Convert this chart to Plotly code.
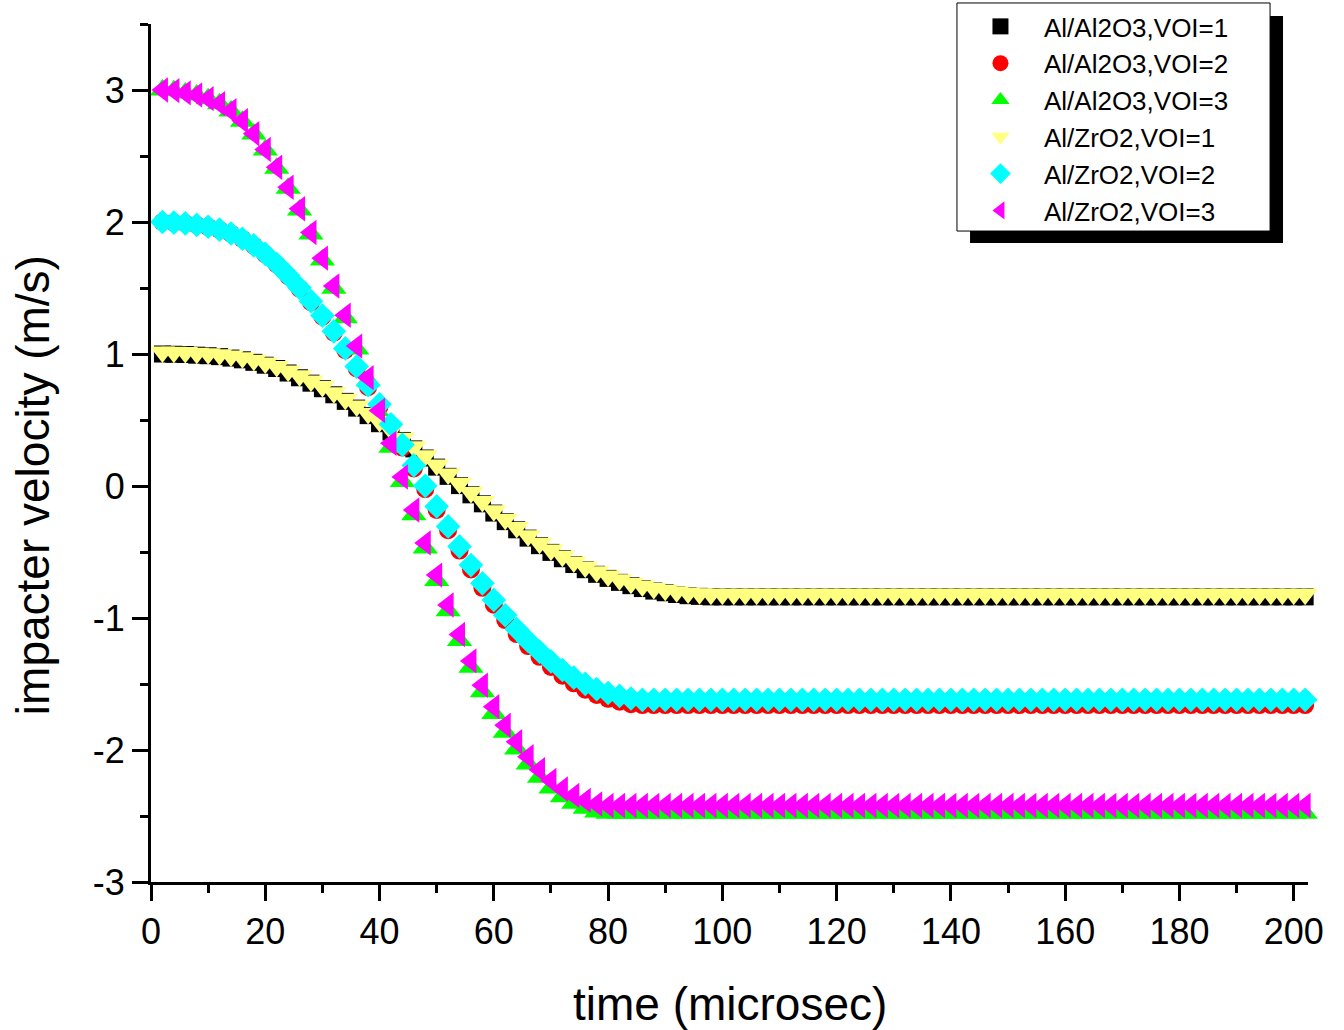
import plotly.graph_objects as go

# time axis (microsec): markers every 2 us from 2 to 202
time_us = list(range(2, 203, 2))

# Al/Al2O3, VOI=1
al2o3_v1 = [
    1.000, 0.998, 0.996, 0.991, 0.987, 0.980, 0.969, 0.956, 0.937, 0.915,
    0.890, 0.856, 0.820, 0.779, 0.737, 0.691, 0.641, 0.590, 0.533, 0.472,
    0.409, 0.345, 0.281, 0.212, 0.143, 0.073, 0.003, -0.067, -0.135, -0.205,
    -0.270, -0.332, -0.395, -0.452, -0.503, -0.551, -0.595, -0.634, -0.669, -0.700,
    -0.730, -0.755, -0.777, -0.796, -0.809, -0.822, -0.831, -0.836, -0.840, -0.840,
    -0.840, -0.840, -0.840, -0.840, -0.840, -0.840, -0.840, -0.840, -0.840, -0.840,
    -0.840, -0.840, -0.840, -0.840, -0.840, -0.840, -0.840, -0.840, -0.840, -0.840,
    -0.840, -0.840, -0.840, -0.840, -0.840, -0.840, -0.840, -0.840, -0.840, -0.840,
    -0.840, -0.840, -0.840, -0.840, -0.840, -0.840, -0.840, -0.840, -0.840, -0.840,
    -0.840, -0.840, -0.840, -0.840, -0.840, -0.840, -0.840, -0.840, -0.840, -0.840,
    -0.840,
]

# Al/Al2O3, VOI=2
al2o3_v2 = [
    2.000, 1.996, 1.989, 1.978, 1.963, 1.941, 1.912, 1.872, 1.821, 1.755,
    1.678, 1.590, 1.495, 1.392, 1.283, 1.162, 1.030, 0.891, 0.748, 0.602,
    0.448, 0.291, 0.133, -0.024, -0.181, -0.335, -0.489, -0.632, -0.771, -0.899,
    -1.016, -1.122, -1.213, -1.294, -1.371, -1.437, -1.495, -1.543, -1.583, -1.612,
    -1.634, -1.653, -1.660, -1.660, -1.660, -1.660, -1.660, -1.660, -1.660, -1.660,
    -1.660, -1.660, -1.660, -1.660, -1.660, -1.660, -1.660, -1.660, -1.660, -1.660,
    -1.660, -1.660, -1.660, -1.660, -1.660, -1.660, -1.660, -1.660, -1.660, -1.660,
    -1.660, -1.660, -1.660, -1.660, -1.660, -1.660, -1.660, -1.660, -1.660, -1.660,
    -1.660, -1.660, -1.660, -1.660, -1.660, -1.660, -1.660, -1.660, -1.660, -1.660,
    -1.660, -1.660, -1.660, -1.660, -1.660, -1.660, -1.660, -1.660, -1.660, -1.660,
    -1.660,
]

# Al/Al2O3, VOI=3
al2o3_v3 = [
    3.000, 2.995, 2.978, 2.962, 2.934, 2.896, 2.841, 2.764, 2.666, 2.545,
    2.408, 2.255, 2.090, 1.909, 1.712, 1.498, 1.274, 1.038, 0.797, 0.545,
    0.293, 0.035, -0.217, -0.469, -0.715, -0.946, -1.170, -1.373, -1.559, -1.724,
    -1.866, -1.992, -2.107, -2.206, -2.288, -2.354, -2.403, -2.442, -2.469, -2.480,
    -2.480, -2.480, -2.480, -2.480, -2.480, -2.480, -2.480, -2.480, -2.480, -2.480,
    -2.480, -2.480, -2.480, -2.480, -2.480, -2.480, -2.480, -2.480, -2.480, -2.480,
    -2.480, -2.480, -2.480, -2.480, -2.480, -2.480, -2.480, -2.480, -2.480, -2.480,
    -2.480, -2.480, -2.480, -2.480, -2.480, -2.480, -2.480, -2.480, -2.480, -2.480,
    -2.480, -2.480, -2.480, -2.480, -2.480, -2.480, -2.480, -2.480, -2.480, -2.480,
    -2.480, -2.480, -2.480, -2.480, -2.480, -2.480, -2.480, -2.480, -2.480, -2.480,
    -2.480,
]

# Al/ZrO2, VOI=1
zro2_v1 = [
    1.015, 1.013, 1.011, 1.006, 1.002, 0.995, 0.984, 0.971, 0.953, 0.931,
    0.905, 0.872, 0.835, 0.795, 0.753, 0.707, 0.657, 0.606, 0.549, 0.488,
    0.426, 0.362, 0.298, 0.230, 0.160, 0.090, 0.020, -0.049, -0.117, -0.187,
    -0.251, -0.314, -0.376, -0.433, -0.484, -0.532, -0.576, -0.614, -0.649, -0.681,
    -0.710, -0.736, -0.758, -0.776, -0.789, -0.802, -0.811, -0.816, -0.820, -0.820,
    -0.820, -0.820, -0.820, -0.820, -0.820, -0.820, -0.820, -0.820, -0.820, -0.820,
    -0.820, -0.820, -0.820, -0.820, -0.820, -0.820, -0.820, -0.820, -0.820, -0.820,
    -0.820, -0.820, -0.820, -0.820, -0.820, -0.820, -0.820, -0.820, -0.820, -0.820,
    -0.820, -0.820, -0.820, -0.820, -0.820, -0.820, -0.820, -0.820, -0.820, -0.820,
    -0.820, -0.820, -0.820, -0.820, -0.820, -0.820, -0.820, -0.820, -0.820, -0.820,
    -0.820,
]

# Al/ZrO2, VOI=2
zro2_v2 = [
    2.000, 1.996, 1.989, 1.978, 1.964, 1.942, 1.913, 1.873, 1.823, 1.758,
    1.682, 1.595, 1.501, 1.400, 1.291, 1.172, 1.042, 0.905, 0.764, 0.619,
    0.467, 0.312, 0.156, 0.001, -0.155, -0.306, -0.458, -0.599, -0.737, -0.863,
    -0.979, -1.084, -1.174, -1.254, -1.329, -1.394, -1.452, -1.499, -1.539, -1.568,
    -1.590, -1.610, -1.620, -1.620, -1.620, -1.620, -1.620, -1.620, -1.620, -1.620,
    -1.620, -1.620, -1.620, -1.620, -1.620, -1.620, -1.620, -1.620, -1.620, -1.620,
    -1.620, -1.620, -1.620, -1.620, -1.620, -1.620, -1.620, -1.620, -1.620, -1.620,
    -1.620, -1.620, -1.620, -1.620, -1.620, -1.620, -1.620, -1.620, -1.620, -1.620,
    -1.620, -1.620, -1.620, -1.620, -1.620, -1.620, -1.620, -1.620, -1.620, -1.620,
    -1.620, -1.620, -1.620, -1.620, -1.620, -1.620, -1.620, -1.620, -1.620, -1.620,
    -1.620,
]

# Al/ZrO2, VOI=3
zro2_v3 = [
    3.000, 2.995, 2.978, 2.962, 2.935, 2.897, 2.843, 2.767, 2.669, 2.550,
    2.415, 2.263, 2.100, 1.921, 1.726, 1.515, 1.293, 1.060, 0.821, 0.572,
    0.323, 0.068, -0.182, -0.431, -0.675, -0.902, -1.125, -1.325, -1.509, -1.672,
    -1.813, -1.938, -2.051, -2.149, -2.230, -2.295, -2.344, -2.382, -2.409, -2.420,
    -2.420, -2.420, -2.420, -2.420, -2.420, -2.420, -2.420, -2.420, -2.420, -2.420,
    -2.420, -2.420, -2.420, -2.420, -2.420, -2.420, -2.420, -2.420, -2.420, -2.420,
    -2.420, -2.420, -2.420, -2.420, -2.420, -2.420, -2.420, -2.420, -2.420, -2.420,
    -2.420, -2.420, -2.420, -2.420, -2.420, -2.420, -2.420, -2.420, -2.420, -2.420,
    -2.420, -2.420, -2.420, -2.420, -2.420, -2.420, -2.420, -2.420, -2.420, -2.420,
    -2.420, -2.420, -2.420, -2.420, -2.420, -2.420, -2.420, -2.420, -2.420, -2.420,
    -2.420,
]

series_names = ["Al/Al2O3,VOI=1", "Al/Al2O3,VOI=2", "Al/Al2O3,VOI=3",
                "Al/ZrO2,VOI=1", "Al/ZrO2,VOI=2", "Al/ZrO2,VOI=3"]
series_values = [al2o3_v1, al2o3_v2, al2o3_v3, zro2_v1, zro2_v2, zro2_v3]
series_colors = ["#000000", "#FF0000", "#00FF00", "#FFFF80", "#00FFFF", "#FF00FF"]
series_symbols = ["square", "circle", "triangle-up", "triangle-down", "diamond", "triangle-left"]
series_sizes = [17, 18, 22, 22, 19, 22]

# y tick labels (ASCII hyphen for negatives, as in the original)
y_tick_values = [-3, -2, -1, 0, 1, 2, 3]
y_tick_labels = ["-3", "-2", "-1", "0", "1", "2", "3"]

FONT = "Liberation Sans, Arial, sans-serif"

fig = go.Figure()
for name, vals, col, sym, sz in zip(series_names, series_values, series_colors,
                                    series_symbols, series_sizes):
    fig.add_trace(go.Scatter(
        x=time_us, y=vals, mode="markers", name=name, cliponaxis=False,
        marker=dict(symbol=sym, size=sz, color=col, line=dict(width=0)),
    ))

axis_common = dict(
    showgrid=False, zeroline=False, showline=True, linecolor="black", linewidth=3,
    ticks="outside", ticklen=16, tickwidth=3, tickcolor="black",
    tickfont=dict(family=FONT, size=36, color="black"),
)

fig.update_xaxes(range=[0, 202.5], tick0=0, dtick=20,
                 minor=dict(tickmode="linear", tick0=0, dtick=10, ticks="outside",
                            ticklen=8, tickwidth=3, tickcolor="black"),
                 **axis_common)
fig.update_yaxes(range=[-3, 3.5], tickmode="array", tickvals=y_tick_values,
                 ticktext=y_tick_labels,
                 minor=dict(tickmode="linear", tick0=0, dtick=0.5, ticks="outside",
                            ticklen=8, tickwidth=3, tickcolor="black"),
                 **axis_common)

fig.update_layout(
    width=1344, height=1030,
    margin=dict(l=151, r=36, t=24, b=148, autoexpand=False),
    paper_bgcolor="white", plot_bgcolor="white",
    font=dict(family=FONT, color="black"),
    showlegend=True,
    legend=dict(x=0.6966, y=1.0245, xanchor="left", yanchor="top",
                bgcolor="rgba(0,0,0,0)", borderwidth=0,
                font=dict(family=FONT, size=26, color="black"),
                itemwidth=77, tracegroupgap=0),
    shapes=[
        # drop shadow of the legend box
        dict(type="rect", xref="paper", yref="paper",
             x0=0.7079, x1=0.9784, y0=0.7447, y1=1.0093,
             fillcolor="black", line=dict(width=0), layer="below"),
        # legend box
        dict(type="rect", xref="paper", yref="paper",
             x0=0.6966, x1=0.9672, y0=0.7587, y1=1.0245,
             fillcolor="white", line=dict(width=1, color="black"), layer="below"),
    ],
    annotations=[
        dict(text="time (microsec)", xref="paper", yref="paper", x=0.5, y=-0.1426,
             xanchor="center", yanchor="middle", showarrow=False,
             font=dict(family=FONT, size=46, color="black")),
        dict(text="impacter velocity (m/s)", xref="paper", yref="paper",
             x=-0.102, y=0.4625, xanchor="center", yanchor="middle", textangle=-90,
             showarrow=False, font=dict(family=FONT, size=46, color="black")),
    ],
)

fig.write_html("out.html")
